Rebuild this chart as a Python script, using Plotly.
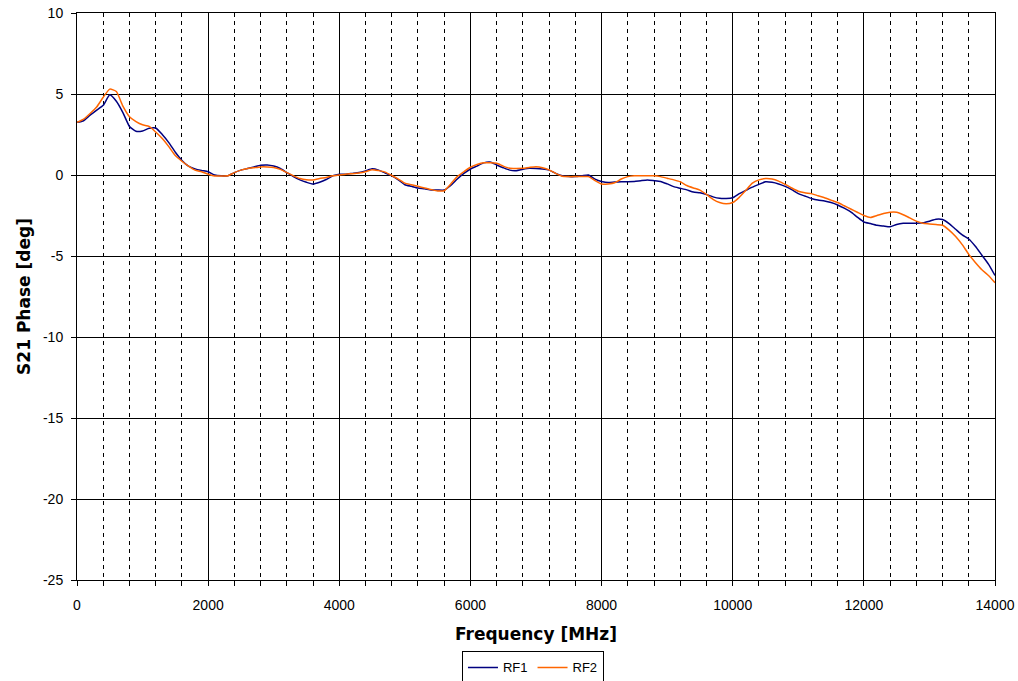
import plotly.graph_objects as go

freq_mhz = list(range(0, 14001, 100))

rf1_phase = [
    3.25, 3.35, 3.7, 4.0, 4.3, 4.95, 4.55, 3.85, 3.0, 2.7,
    2.72, 2.88, 2.9, 2.5, 2.0, 1.4, 0.9, 0.55, 0.38, 0.28,
    0.2, 0.0, -0.05, -0.05, 0.15, 0.3, 0.4, 0.5, 0.6, 0.62,
    0.55, 0.4, 0.15, -0.1, -0.3, -0.45, -0.56, -0.45, -0.28, -0.05,
    0.05, 0.05, 0.1, 0.15, 0.25, 0.38, 0.3, 0.12, -0.05, -0.3,
    -0.6, -0.7, -0.8, -0.85, -0.92, -0.93, -0.93, -0.65, -0.25, 0.1,
    0.37, 0.55, 0.75, 0.8, 0.62, 0.45, 0.3, 0.27, 0.35, 0.41,
    0.4, 0.37, 0.3, 0.1, -0.05, -0.1, -0.1, -0.05, 0.0, -0.25,
    -0.4, -0.47, -0.43, -0.41, -0.41, -0.4, -0.35, -0.31, -0.35, -0.4,
    -0.55, -0.72, -0.82, -0.92, -1.05, -1.1, -1.2, -1.35, -1.44, -1.45,
    -1.4, -1.15, -0.95, -0.75, -0.58, -0.42, -0.45, -0.55, -0.7, -0.9,
    -1.15, -1.3, -1.45, -1.55, -1.6, -1.7, -1.85, -2.05, -2.28, -2.6,
    -2.9, -3.0, -3.1, -3.15, -3.2, -3.05, -2.98, -2.98, -2.98, -2.95,
    -2.85, -2.73, -2.75, -3.0, -3.35, -3.7, -3.95, -4.4, -4.95, -5.5,
    -6.2,
]

rf2_phase = [
    3.25, 3.45, 3.8, 4.2, 4.8, 5.3, 5.15, 4.25, 3.6, 3.3,
    3.1, 3.0, 2.65, 2.25, 1.75, 1.2, 0.85, 0.55, 0.3, 0.2,
    0.05, -0.06, -0.06, -0.05, 0.15, 0.3, 0.4, 0.45, 0.5, 0.5,
    0.47, 0.35, 0.15, -0.05, -0.22, -0.3, -0.31, -0.22, -0.15, -0.05,
    0.0, 0.05, 0.08, 0.12, 0.2, 0.33, 0.27, 0.18, -0.03, -0.25,
    -0.5, -0.6, -0.7, -0.8, -0.9, -0.98, -0.97, -0.55, -0.1, 0.2,
    0.48, 0.65, 0.76, 0.75, 0.72, 0.55, 0.41, 0.4, 0.41, 0.47,
    0.51, 0.45, 0.32, 0.1, -0.08, -0.1, -0.1, -0.1, -0.1, -0.35,
    -0.56, -0.55, -0.48, -0.25, -0.1, -0.05, -0.04, -0.04, -0.05, -0.1,
    -0.2, -0.3, -0.42, -0.65, -0.8, -0.93, -1.2, -1.5, -1.7, -1.78,
    -1.7, -1.38, -0.95, -0.5, -0.3, -0.22, -0.25, -0.38, -0.58, -0.8,
    -1.0, -1.1, -1.15, -1.28, -1.4, -1.55, -1.7, -1.9, -2.1, -2.3,
    -2.5, -2.62, -2.5, -2.38, -2.3, -2.3, -2.45, -2.65, -2.85, -2.98,
    -3.02, -3.06, -3.1, -3.4, -3.8, -4.3, -4.9, -5.4, -5.85, -6.2,
    -6.65,
]

x_ticks = [0, 2000, 4000, 6000, 8000, 10000, 12000, 14000]
y_ticks = [10, 5, 0, -5, -10, -15, -20, -25]

fig = go.Figure()
fig.add_trace(go.Scatter(x=freq_mhz, y=rf1_phase, mode="lines", name="RF1",
                         line=dict(color="#000080", width=1.5, shape="spline", smoothing=0.5)))
fig.add_trace(go.Scatter(x=freq_mhz, y=rf2_phase, mode="lines", name="RF2",
                         line=dict(color="#FF6600", width=1.5, shape="spline", smoothing=0.5)))

font = "Liberation Sans, Arial, sans-serif"
title_font = "DejaVu Sans, Verdana, sans-serif"

fig.update_layout(
    width=1018, height=681,
    margin=dict(l=77, r=23, t=13, b=101, autoexpand=False),
    paper_bgcolor="white", plot_bgcolor="white",
    font=dict(family=font, size=14, color="black"),
    showlegend=True,
    legend=dict(orientation="h", x=0.4967, xanchor="center", y=-0.126, yanchor="top",
                bordercolor="black", borderwidth=1, font=dict(size=13),
                itemwidth=30, tracegroupgap=0, valign="middle"),
    xaxis=dict(
        range=[0, 14000], tickvals=x_ticks, ticktext=[str(v) for v in x_ticks],
        showgrid=True, gridcolor="black", gridwidth=1,
        showline=True, linecolor="black", linewidth=1, mirror=True,
        ticks="outside", ticklen=5, tickcolor="black", ticklabelstandoff=7,
        ticklabeloverflow="allow",
        zeroline=False, automargin=False,
        minor=dict(dtick=400, tick0=0, showgrid=True, gridcolor="black", gridwidth=1,
                   griddash="4px,4px", ticks="outside", ticklen=5, tickcolor="black"),
        title=dict(text="<b>Frequency [MHz]</b>", font=dict(family=title_font, size=17), standoff=16),
        tickfont=dict(size=14),
    ),
    yaxis=dict(
        range=[-25, 10], tickvals=y_ticks, ticktext=[str(v) for v in y_ticks],
        showgrid=True, gridcolor="black", gridwidth=1,
        showline=True, linecolor="black", linewidth=1, mirror=True,
        ticks="outside", ticklen=5, tickcolor="black", ticklabelstandoff=5,
        ticklabeloverflow="allow",
        zeroline=False, automargin=False,
        title=dict(text="<b>S21 Phase [deg]</b>", font=dict(family=title_font, size=17), standoff=8),
        tickfont=dict(size=14),
    ),
)

fig.write_html("out.html", config={"displayModeBar": False},
               post_script="document.body.style.margin='0';")
